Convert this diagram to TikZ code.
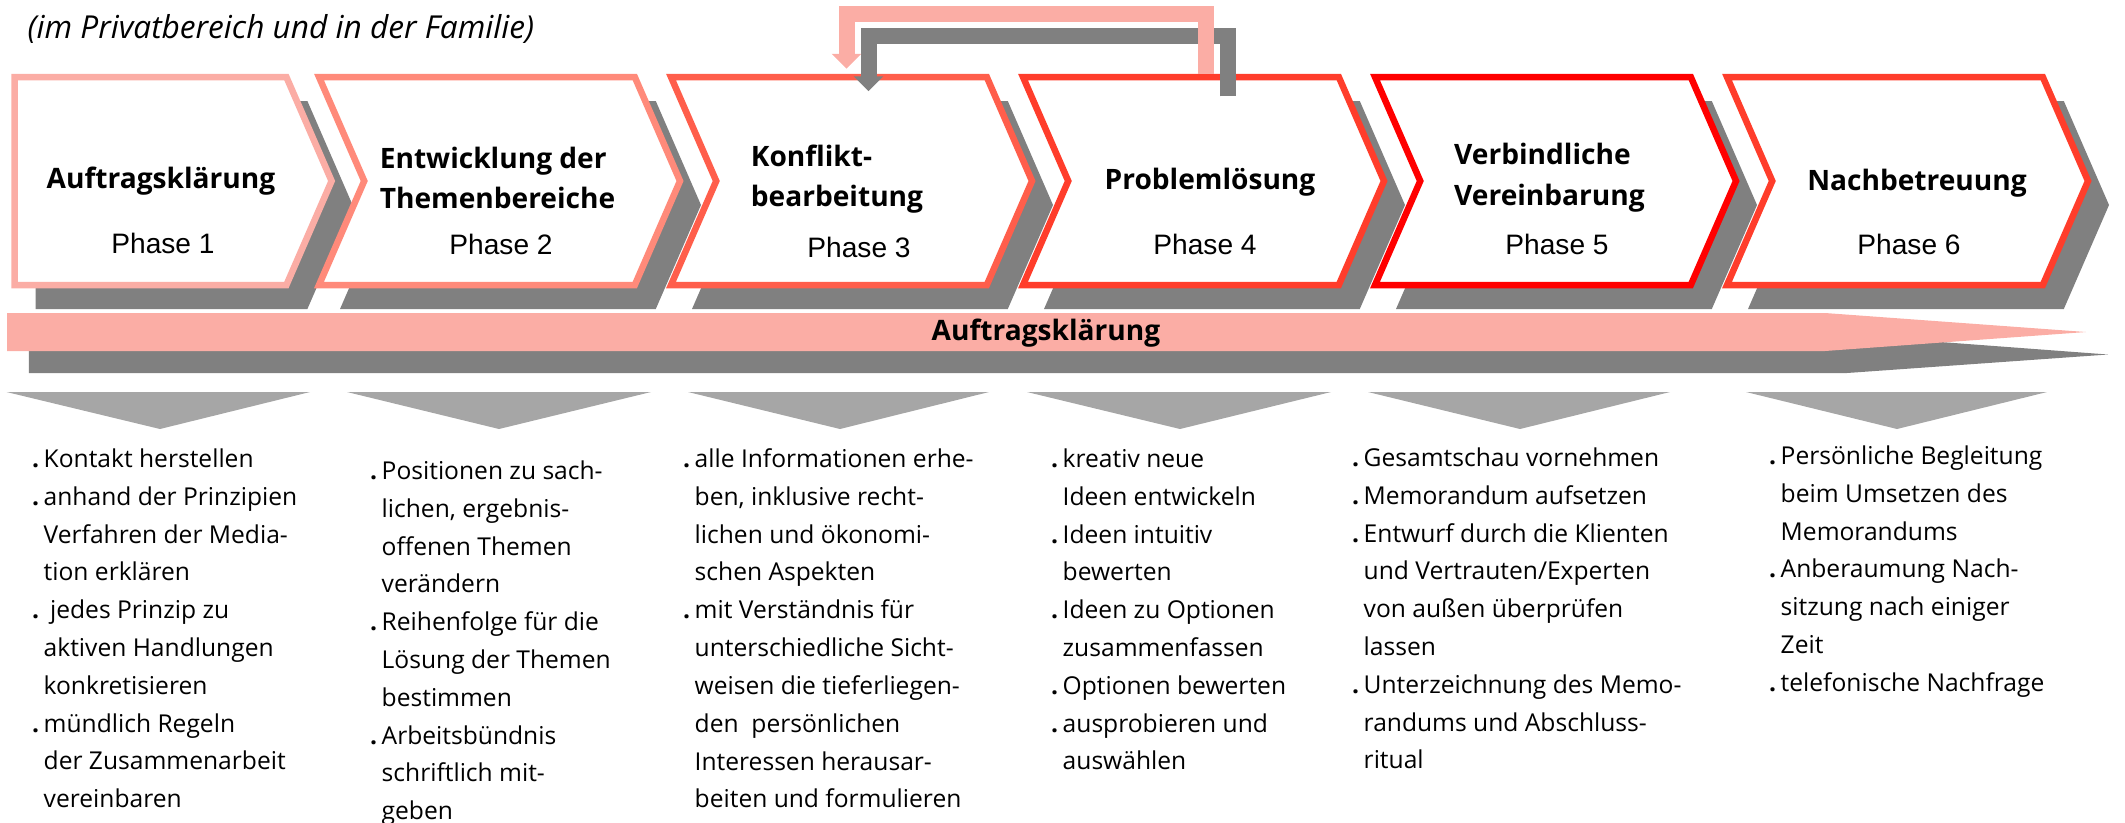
\documentclass[tikz,border=0pt]{standalone}
\usepackage{fontspec}
\setmainfont{Open Sans}
\newfontfamily\phasefont{Liberation Sans}
\usepackage{tikz}
\usetikzlibrary{arrows.meta}
\usetikzlibrary{positioning}
\usetikzlibrary{shapes.symbols}
\usetikzlibrary{shadows}

\definecolor{rosa}{HTML}{FBADA5}
\definecolor{lachs}{HTML}{FF8A7A}
\definecolor{hellrot}{HTML}{FF5E4B}
\definecolor{mittelrot}{HTML}{FF3D2B}
\definecolor{tiefrot}{HTML}{FF0000}
\definecolor{schatten}{HTML}{808080}
\definecolor{pfeilgrau}{HTML}{A6A6A6}

\tikzstyle{every node}+=[inner sep=0pt]
\tikzstyle{chevron} = [signal, signal to=east, signal from=west, signal pointer angle=133, draw, fill=white, line width=0.065cm, minimum width=3.61cm, minimum height=2.08cm, node distance=3.52cm, drop shadow={shadow xshift=0.21cm, shadow yshift=-0.24cm, fill=schatten, opacity=1}]
\tikzstyle{head} = [font=\fontsize{8}{11.6}\selectfont\bfseries, align=left]
\tikzstyle{phase} = [font=\phasefont\fontsize{8}{9.6}\selectfont, node distance=0.63cm]
\tikzstyle{liste} = [font=\fontsize{7}{10.76}\selectfont, align=left, anchor=north west]
\tikzstyle{schleife} = [line width=0.16cm, line join=miter, shorten >=0.05cm, -{Triangle[width=0.29cm, length=0.15cm]}]
\tikzstyle{senke} = [fill=pfeilgrau]
\newcommand{\bul}{\llap{\textbf{.}\hspace{0.45mm}}}

\begin{document}
\begin{tikzpicture}
\useasboundingbox (0,0) rectangle (21.25,-8.22);
            % Title
            \node [anchor=west, font=\fontsize{9}{11}\selectfont\itshape] (titel) at (0.27,-0.29) {(im Privatbereich und in der Familie)};
            % Place phases
            \node [chevron, signal from=nowhere, minimum width=3.17cm, draw=rosa] (c1) at (1.505,-1.81) {};
            \node [chevron, draw=lachs, right of=c1, node distance=3.49cm] (c2) {};
            \node [chevron, draw=hellrot, right of=c2] (c3) {};
            \node [chevron, draw=mittelrot, right of=c3] (c4) {};
            \node [chevron, draw=tiefrot, right of=c4] (c5) {};
            \node [chevron, draw=mittelrot, right of=c5] (c6) {};
            % Phase texts
            \node [head, xshift=0.105cm] (h1) at (c1) {Auftragsklärung};
            \node [phase, below of=c1, xshift=0.125cm, node distance=0.62cm] (p1) {Phase 1};
            \node [head, xshift=-0.02cm, yshift=0.03cm] (h2) at (c2) {Entwicklung der\\Themenbereiche};
            \node [phase, below of=c2, xshift=0.015cm] (p2) {Phase 2};
            \node [head, xshift=-0.145cm, yshift=0.02cm] (h3) at (c3) {Konflikt-\\bearbeitung};
            \node [phase, below of=c3, xshift=0.075cm, node distance=0.66cm] (p3) {Phase 3};
            \node [head, xshift=0.065cm, yshift=-0.01cm] (h4) at (c4) {Problemlösung};
            \node [phase, below of=c4, xshift=0.015cm] (p4) {Phase 4};
            \node [head, xshift=-0.06cm, yshift=0.03cm] (h5) at (c5) {Verbindliche\\Vereinbarung};
            \node [phase, below of=c5, xshift=0.015cm] (p5) {Phase 5};
            \node [head, xshift=0.095cm, yshift=-0.02cm] (h6) at (c6) {Nachbetreuung};
            \node [phase, below of=c6, xshift=0.015cm] (p6) {Phase 6};
            % Loop back from phase 4 to phase 3
            \draw [schleife, draw=schatten, transform canvas={xshift=0.22cm, yshift=-0.225cm}] ([xshift=0.02cm]c4.north) -- ++(0,0.6) -| ([xshift=-0.05cm]c3.north);
            \draw [schleife, draw=rosa] ([xshift=0.02cm]c4.north) -- ++(0,0.6) -| ([xshift=-0.05cm]c3.north);
            % Band
            \fill [schatten] (0.29,-3.35) -- (18.47,-3.35) -- (21.08,-3.545) -- (18.47,-3.73) -- (0.29,-3.73) -- cycle;
            \fill [rosa] (0.07,-3.13) -- (18.25,-3.13) -- (20.86,-3.32) -- (18.25,-3.51) -- (0.07,-3.51) -- cycle;
            \node [head] (band) at (10.46,-3.33) {Auftragsklärung};
            % Arrows down
            \path [senke] (0.065,-3.92) -- (3.10,-3.92) -- (1.60,-4.29) -- cycle;
            \path [senke] (3.47,-3.92) -- (6.51,-3.92) -- (4.99,-4.29) -- cycle;
            \path [senke] (6.88,-3.92) -- (9.89,-3.92) -- (8.40,-4.29) -- cycle;
            \path [senke] (10.27,-3.92) -- (13.31,-3.92) -- (11.80,-4.29) -- cycle;
            \path [senke] (13.68,-3.92) -- (16.70,-3.92) -- (15.20,-4.29) -- cycle;
            \path [senke] (17.46,-3.92) -- (20.47,-3.92) -- (18.97,-4.29) -- cycle;
            % Lists
            \node [liste] (l1) at (0.43,-4.48) {\bul Kontakt herstellen\\ \bul anhand der Prinzipien\\ Verfahren der Media-\\ tion erklären\\ \bul\ jedes Prinzip zu\\ aktiven Handlungen\\ konkretisieren\\ \bul mündlich Regeln\\ der Zusammenarbeit\\ vereinbaren};
            \node [liste] (l2) at (3.81,-4.60) {\bul Positionen zu sach-\\ lichen, ergebnis-\\ offenen Themen\\ verändern\\ \bul Reihenfolge für die\\ Lösung der Themen\\ bestimmen\\ \bul Arbeitsbündnis\\ schriftlich mit-\\ geben};
            \node [liste] (l3) at (6.94,-4.48) {\bul alle Informationen erhe-\\ ben, inklusive recht-\\ lichen und ökonomi-\\ schen Aspekten\\ \bul mit Verständnis für\\ unterschiedliche Sicht-\\ weisen die tieferliegen-\\ den\ \ persönlichen\\ Interessen herausar-\\ beiten und formulieren};
            \node [liste] (l4) at (10.62,-4.48) {\bul kreativ neue\\ Ideen entwickeln\\ \bul Ideen intuitiv\\ bewerten\\ \bul Ideen zu Optionen\\ zusammenfassen\\ \bul Optionen bewerten\\ \bul ausprobieren und\\ auswählen};
            \node [liste] (l5) at (13.63,-4.47) {\bul Gesamtschau vornehmen\\ \bul Memorandum aufsetzen\\ \bul Entwurf durch die Klienten\\ und Vertrauten/Experten\\ von außen überprüfen\\ lassen\\ \bul Unterzeichnung des Memo-\\ randums und Abschluss-\\ ritual};
            \node [liste] (l6) at (17.80,-4.45) {\bul Persönliche Begleitung\\ beim Umsetzen des\\ Memorandums\\ \bul Anberaumung Nach-\\ sitzung nach einiger\\ Zeit\\ \bul telefonische Nachfrage};
\end{tikzpicture}
\end{document}
